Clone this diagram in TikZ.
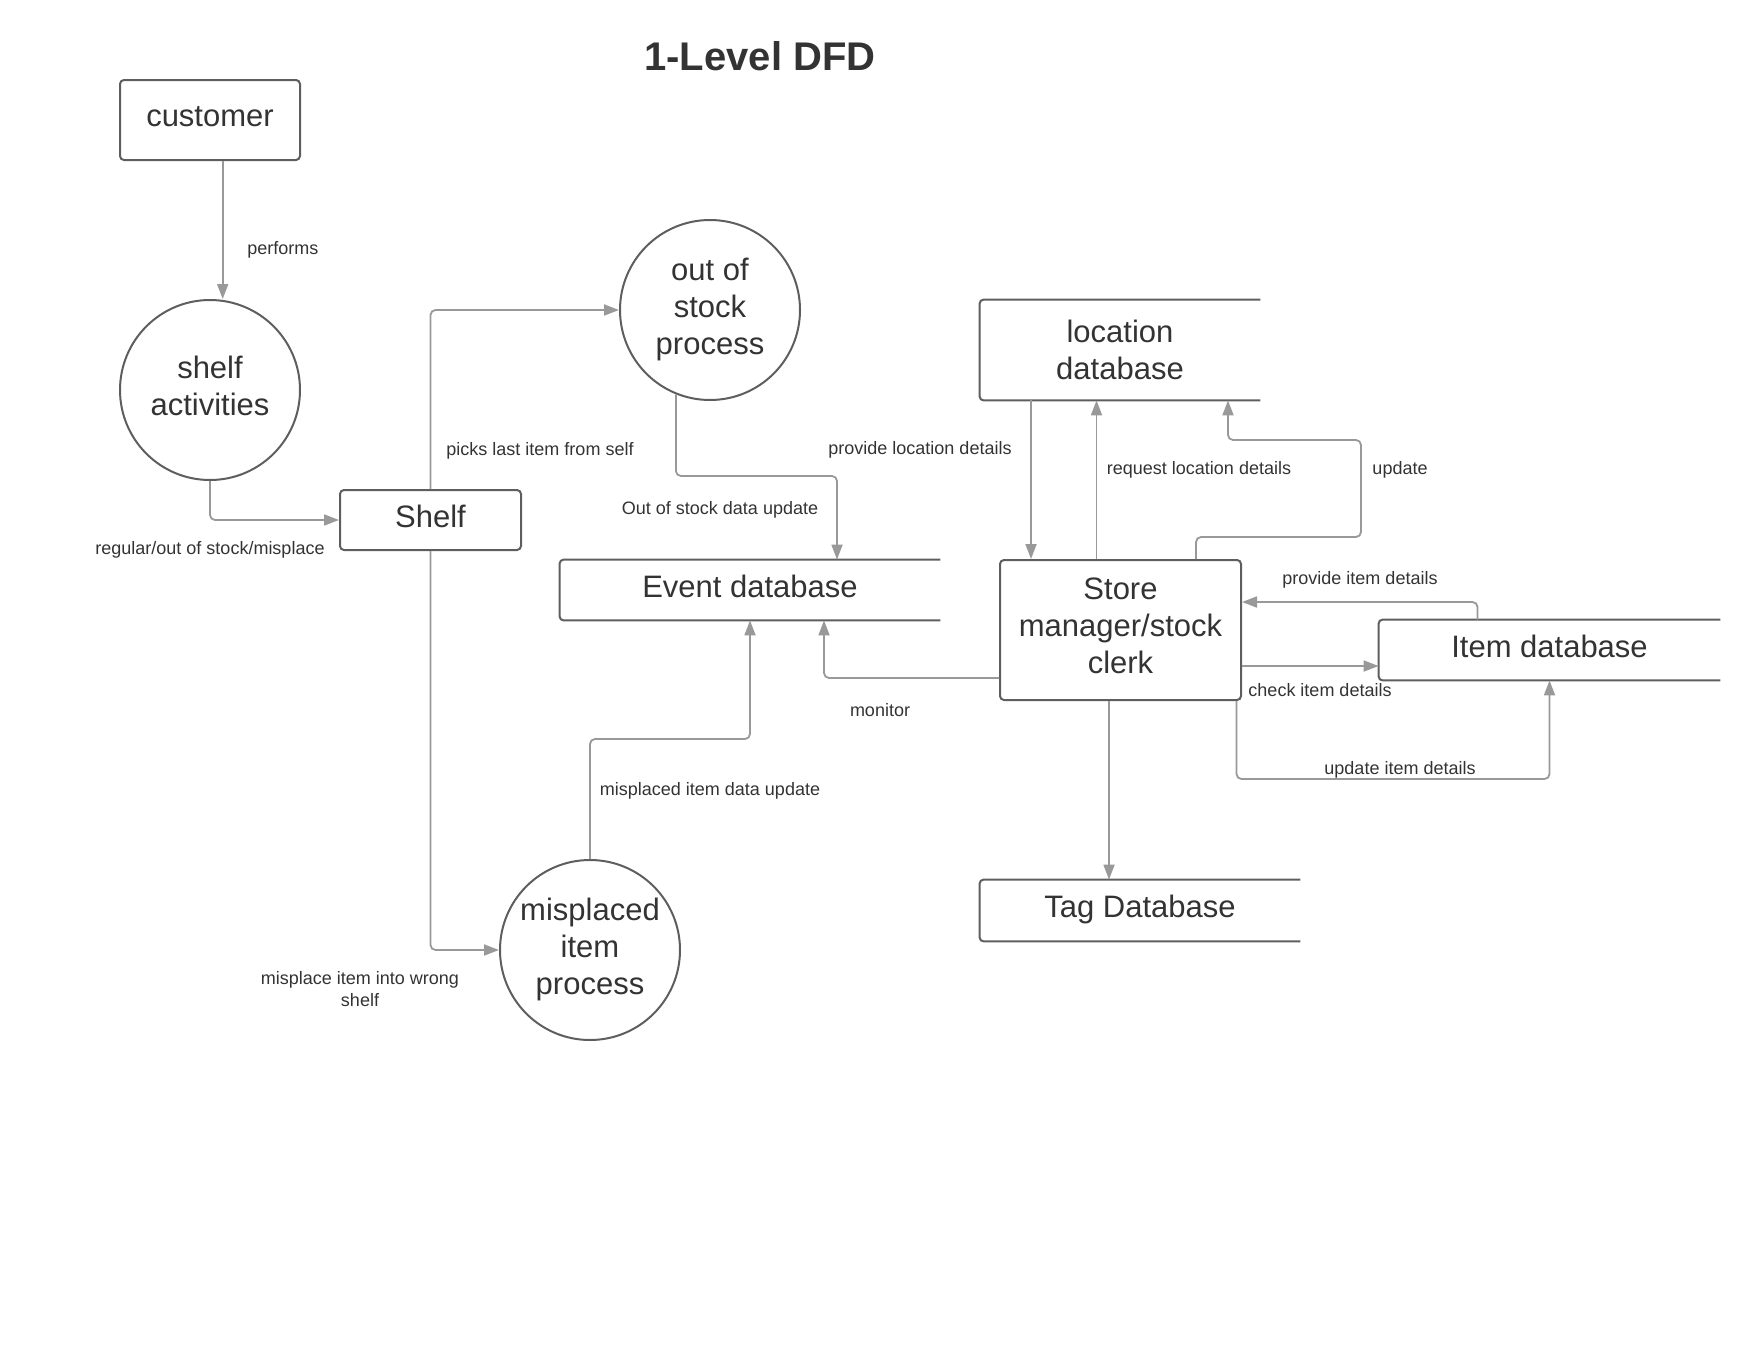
\documentclass[tikz,border=0pt]{standalone}
\usepackage{fontspec}
\setmainfont{Liberation Sans}
\usetikzlibrary{arrows.meta}
\definecolor{ink}{HTML}{333333}
\definecolor{edge}{HTML}{5E5E5E}
\definecolor{flowc}{HTML}{999999}

\begin{document}
\begin{tikzpicture}[x=0.5pt,y=-0.5pt,
  every node/.style={text=ink},
  big/.style={font=\fontsize{15.5}{18.5}\selectfont,align=center,inner sep=0pt},
  lift/.style={execute at end node={\rule[-4pt]{0pt}{4pt}}},
  proc/.style={big,lift,circle,draw=edge,line width=1pt,minimum size=90pt},
  ent/.style={big,lift,rectangle,draw=edge,line width=1pt,rounded corners=2pt},
  dsnode/.style={big},
  dsline/.style={draw=edge,line width=1pt,rounded corners=2pt},
  flow/.style={draw=flowc,line width=0.9pt,rounded corners=2.5pt,-{Triangle[length=7.5pt,width=5.5pt]}},
  lbl/.style={font=\fontsize{9}{11}\selectfont,inner sep=1pt,align=center}]
%%
\newcommand{\dstore}[4][]{\node[dsnode,#1] (#2) at (#3) {#4};
  \draw[dsline] (#2.north east) -- (#2.north west) -- (#2.south west) -- (#2.south east);}
%%
\useasboundingbox (0,0) rectangle (1760,1360);
\node[font=\bfseries\fontsize{20}{24}\selectfont] (title) at (760,56) {1-Level DFD};
%
\node[ent,minimum width=90pt,minimum height=40pt] (cust) at (210,120) {customer};
\node[proc] (shelfact) at (210,390) {shelf\\activities};
\node[ent,minimum width=90.5pt,minimum height=30pt] (shelf) at (430.5,520) {Shelf};
\node[proc] (oos) at (710,310) {out of\\stock\\process};
\node[proc] (mis) at (590,950) {misplaced\\item\\process};
\node[ent,minimum width=120.5pt,minimum height=70pt] (clerk) at (1120.5,630) {Store\\manager/stock\\clerk};
\dstore[lift,minimum width=190pt,minimum height=30pt]{eventdb}{750,590}{Event database}
\dstore[minimum width=140pt,minimum height=50pt]{locdb}{1120,350}{location\\database}
\dstore[lift,minimum width=170.5pt,minimum height=30pt]{itemdb}{1549.5,650}{Item database}
\dstore[lift,minimum width=160pt,minimum height=30.5pt]{tagdb}{1140,910.5}{Tag Database}
%
\draw[flow] ([xshift=6.35pt]cust.south) -- ([xshift=6.35pt]cust.south |- shelfact.north);
\draw[flow] (shelfact.south) |- (shelf.west);
\draw[flow] (shelf.north) |- (oos.west);
\draw[flow] (oos.248) |- (837,476) -- ([xshift=43.5pt]eventdb.north);
\draw[flow] (shelf.south) |- (mis.west);
\draw[flow] (mis.north) -- ++(0,-120) -| (eventdb.south);
\draw[flow] ([yshift=-24pt]clerk.west) -| ([xshift=37pt]eventdb.south);
\draw[flow] ([xshift=-44.5pt]locdb.south) -- ([xshift=-44.5pt]locdb.south |- clerk.north);
\draw[flow] ([xshift=-12pt]clerk.north) -- ([xshift=-12pt]clerk.north |- locdb.south);
\draw[flow] ([xshift=37.75pt]clerk.north) -- ++(0,-22) -| (1361,440) -| ([xshift=54pt]locdb.south);
\draw[flow] ([xshift=-36pt]itemdb.north) |- ([yshift=14pt]clerk.east);
\draw[flow] ([yshift=-18pt]clerk.east) -- ([yshift=-18pt]clerk.east -| itemdb.west);
\draw[flow] ([xshift=58pt]clerk.south) -- ++(0,78) -| (itemdb.south);
\draw[flow] ([xshift=-5.75pt]clerk.south) -- ([xshift=-5.75pt]clerk.south |- tagdb.north);
%
\node[lbl,anchor=west] (lperf) at (245,250) {performs};
\node[lbl] (lreg) at (210,550) {regular/out of stock/misplace};
\node[lbl] (lpick) at (540,451) {picks last item from self};
\node[lbl] (loos) at (720,510) {Out of stock data update};
\node[lbl] (lprov) at (920,450) {provide location details};
\node[lbl] (lreq) at (1199,470) {request location details};
\node[lbl] (lupd) at (1400,470) {update};
\node[lbl] (lpid) at (1360,580) {provide item details};
\node[lbl] (lcid) at (1320,690) {check item details};
\node[lbl] (luid) at (1400,770) {update item details};
\node[lbl] (lmon) at (880,710) {monitor};
\node[lbl] (lmdu) at (710,791) {misplaced item data update};
\node[lbl] (lmis) at (360,989) {misplace item into wrong\\shelf};
\end{tikzpicture}
\end{document}
